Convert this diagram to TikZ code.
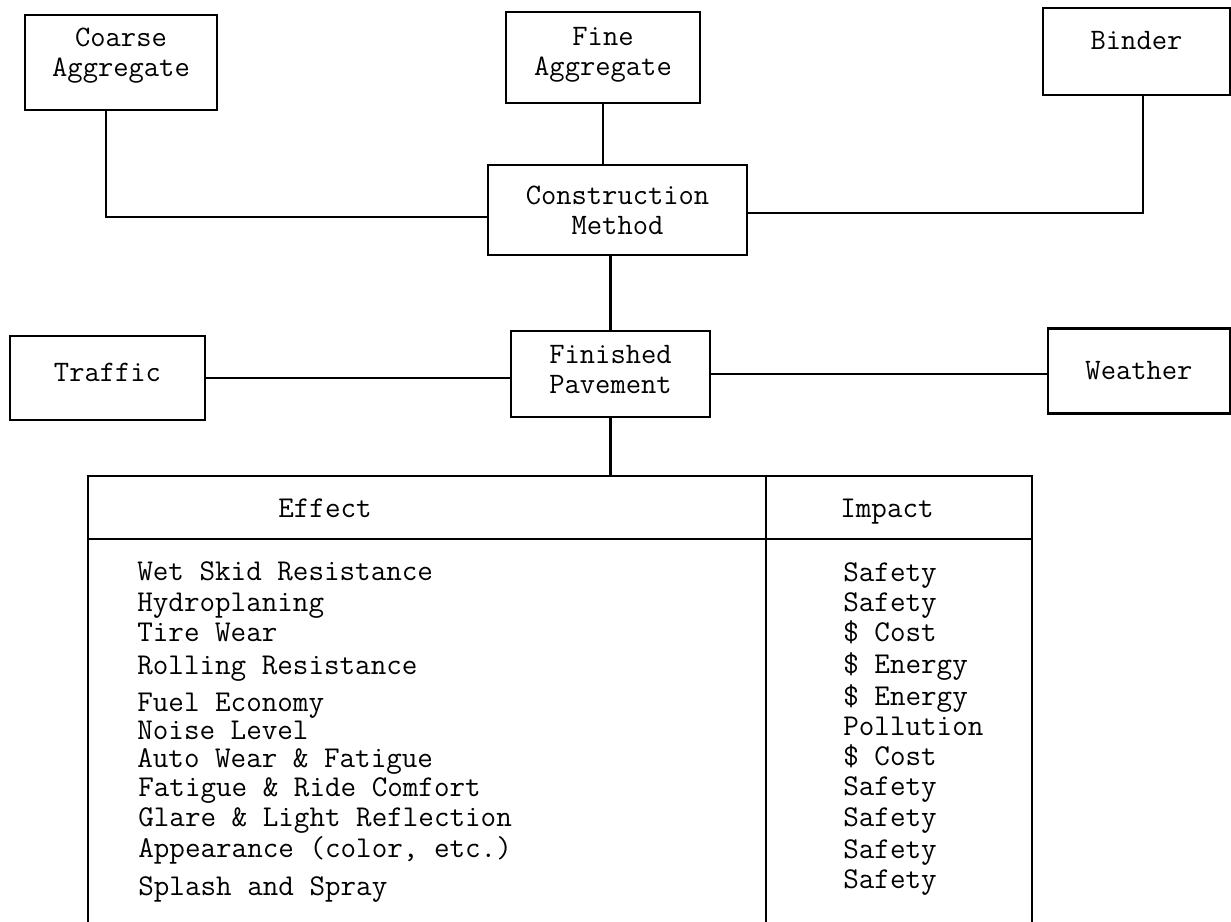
\documentclass[tikz,border=0pt]{standalone}
\usepackage{fontspec}
\newcommand{\typew}{\ttfamily\fontsize{16.9}{17}\selectfont}
\newcommand{\typerow}{\ttfamily\fontsize{17.2}{17}\selectfont}
\tikzset{
  box/.style={draw,line width=1.2pt,align=center,font=\typew},
  link/.style={line width=1.2pt},
  txt/.style={font=\typerow,inner sep=0pt},
}

\begin{document}
\begin{tikzpicture}[x=0.02cm,y=-0.02cm]
\useasboundingbox (0,0) rectangle (1231,922);

% inputs
\node[box,minimum width=3.84cm,minimum height=1.9cm,text depth=0.42cm] (coarse) at (121,62.5) {Coarse\\Aggregate};
\node[box,minimum width=3.88cm,minimum height=1.82cm,text depth=0.24cm] (fine) at (603,57.5) {Fine\\Aggregate};
\node[box,minimum width=3.74cm,minimum height=1.74cm,text depth=0.46cm] (binder) at (1136.5,51.5) {Binder};
\node[box,minimum width=5.18cm,minimum height=1.8cm] (construction) at (617.5,210) {Construction\\Method};

% pavement row
\node[box,minimum width=3.9cm,minimum height=1.68cm,text depth=0.22cm] (traffic) at (107.5,378) {Traffic};
\node[box,minimum width=3.98cm,minimum height=1.72cm,text depth=0.2cm] (finished) at (610.5,374) {Finished\\Pavement};
\node[box,minimum width=3.64cm,minimum height=1.7cm] (weather) at (1139,371) {Weather};

\coordinate (jl) at (106,217);
\coordinate (jr) at (1143,213);
\coordinate (tabtop) at (611,476);
\draw[link] (coarse.south -| jl) -- (jl) -- (construction.west |- jl);
\draw[link] (binder.south -| jr) -- (jr) -- (construction.east |- jr);
\draw[link] (fine.south) -- (fine.south |- construction.north);
\draw[link] (construction.south -| finished.north) -- (finished.north);
\draw[link] (traffic.east) -- (traffic.east -| finished.west);
\draw[link] (finished.east) -- (finished.east -| weather.west);
\draw[link] (finished.south) -- (finished.south |- tabtop);

% table
\draw[link] (88,922) -- (88,476) -- (1032,476) -- (1032,922);
\draw[link] (88,539) -- (1032,539);
\draw[link] (766,476) -- (766,922);
\node[txt,anchor=base] (effecthead) at (325,517) {Effect};
\node[txt,anchor=base] (impacthead) at (887,517) {Impact};

\node[txt,anchor=base west] (eff1) at (137,580) {Wet Skid Resistance};
\node[txt,anchor=base west] (eff2) at (137,611) {Hydroplaning};
\node[txt,anchor=base west] (eff3) at (137,641) {Tire Wear};
\node[txt,anchor=base west] (eff4) at (137,674) {Rolling Resistance};
\node[txt,anchor=base west] (eff5) at (137,711) {Fuel Economy};
\node[txt,anchor=base west] (eff6) at (137,739) {Noise Level};
\node[txt,anchor=base west] (eff7) at (137,767) {Auto Wear \& Fatigue};
\node[txt,anchor=base west] (eff8) at (138,796) {Fatigue \& Ride Comfort};
\node[txt,anchor=base west] (eff9) at (138,826) {Glare \& Light Reflection};
\node[txt,anchor=base west] (eff10) at (138,857) {Appearance (color, etc.)};
\node[txt,anchor=base west] (eff11) at (138,895) {Splash and Spray};

\node[txt,anchor=base west] (imp1) at (843,581) {Safety};
\node[txt,anchor=base west] (imp2) at (843,611) {Safety};
\node[txt,anchor=base west] (imp3) at (843,641) {\$ Cost};
\node[txt,anchor=base west] (imp4) at (843,673) {\$ Energy};
\node[txt,anchor=base west] (imp5) at (843,705) {\$ Energy};
\node[txt,anchor=base west] (imp6) at (843,735) {Pollution};
\node[txt,anchor=base west] (imp7) at (843,765) {\$ Cost};
\node[txt,anchor=base west] (imp8) at (843,795) {Safety};
\node[txt,anchor=base west] (imp9) at (843,826) {Safety};
\node[txt,anchor=base west] (imp10) at (843,858) {Safety};
\node[txt,anchor=base west] (imp11) at (843,888) {Safety};

\end{tikzpicture}
\end{document}
